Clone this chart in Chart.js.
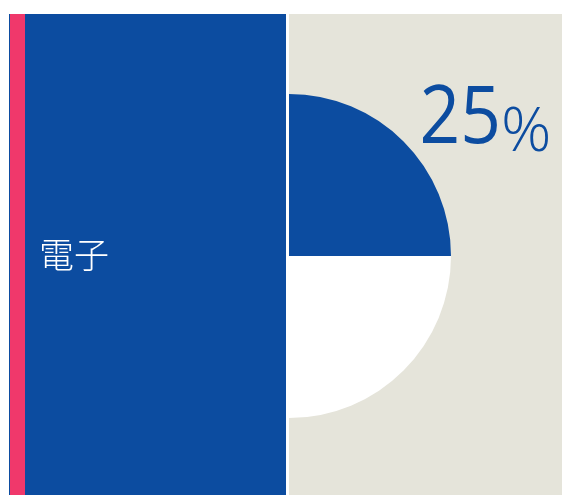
<!DOCTYPE html>
<html>
<head>
<meta charset="utf-8">
<script src="https://cdn.jsdelivr.net/npm/chart.js@4/dist/chart.umd.min.js"></script>
<style>
  html, body { margin: 0; padding: 0; background: #fff; }
  #wrap { width: 562px; height: 495px; position: relative; }
</style>
</head>
<body>
<div id="wrap"><canvas id="c" width="562" height="495"></canvas></div>
<script>
// Share of the segment
const categories = ['電子', 'その他'];
const values = [25, 75];
const sliceColors = ['#0c4ca0', '#ffffff'];
const segmentLabel = '電子';

const BLUE = '#0c4ca0';
const PINK = '#f0386b';
const BEIGE = '#e5e4da';

// Beige backdrop on the right, drawn under the pie
const backdrop = {
  id: 'backdrop',
  beforeDraw(chart) {
    const ctx = chart.ctx;
    ctx.save();
    ctx.fillStyle = '#ffffff';
    ctx.fillRect(0, 0, chart.width, chart.height);
    ctx.fillStyle = BEIGE;
    ctx.fillRect(289, 14, chart.width - 289, chart.height - 14);
    ctx.restore();
  }
};

// Left blue panel with pink stripe, plus the labels
const panel = {
  id: 'panel',
  afterDatasetsDraw(chart) {
    const ctx = chart.ctx;
    ctx.save();
    ctx.fillStyle = BLUE;
    ctx.fillRect(9, 14, 277, chart.height - 14);
    ctx.fillStyle = PINK;
    ctx.fillRect(10, 14, 15, chart.height - 14);

    ctx.fillStyle = '#ffffff';
    ctx.font = '300 35px "Noto Sans CJK JP", "Noto Sans", sans-serif';
    ctx.textBaseline = 'alphabetic';
    ctx.textAlign = 'left';
    ctx.fillText(segmentLabel, 39, 268);

    const pct = values[0] / values.reduce((a, b) => a + b, 0) * 100;
    const num = String(Math.round(pct));
    ctx.fillStyle = BLUE;

    // large figure, slightly condensed
    ctx.font = '81px "Open Sans", sans-serif';
    const m = ctx.measureText(num);
    ctx.save();
    ctx.translate(423, 143);
    ctx.scale(0.88, 1);
    ctx.fillText(num, m.actualBoundingBoxLeft, 0);
    ctx.restore();

    // smaller percent sign, sitting a little below the figure
    ctx.font = '300 60px "Open Sans", sans-serif';
    const pm = ctx.measureText('%');
    ctx.save();
    ctx.translate(504, 151);
    ctx.scale(1.04, 1);
    ctx.fillText('%', pm.actualBoundingBoxLeft, 0);
    ctx.restore();
    ctx.restore();
  }
};

new Chart(document.getElementById('c'), {
  type: 'pie',
  data: {
    labels: categories,
    datasets: [{
      data: values,
      backgroundColor: sliceColors,
      borderWidth: 0,
      hoverOffset: 0
    }]
  },
  options: {
    responsive: false,
    animation: false,
    events: [],
    layout: { padding: { left: 127, right: 111, top: 94, bottom: 77 } },
    plugins: { legend: { display: false }, tooltip: { enabled: false } }
  },
  plugins: [backdrop, panel]
});
</script>
</body>
</html>
